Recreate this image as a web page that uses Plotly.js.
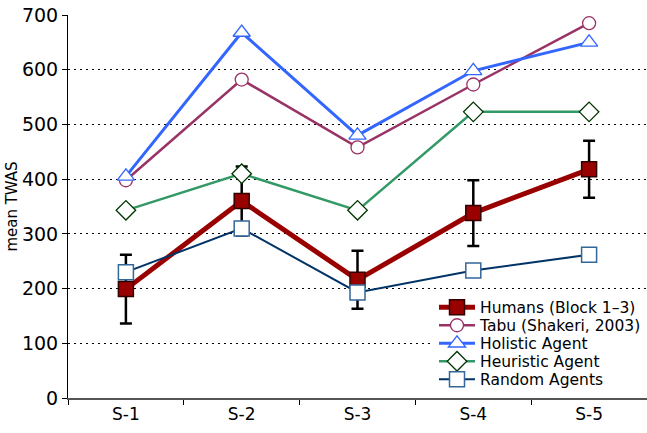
<!DOCTYPE html>
<html><head><meta charset="utf-8">
<script src="https://cdn.plot.ly/plotly-3.0.1.min.js"></script>
<style>body{margin:0;padding:0;background:#fff}#c{width:647px;height:433px}</style>
</head><body><div id="c"></div>
<script>
const categories = ["S-1","S-2","S-3","S-4","S-5"];
const humans = [199, 360, 216, 338, 418];
const humansErr = [63, 63, 53, 60, 52];
const tabu = [398, 582, 458, 573, 685];
const holistic = [405, 668, 480, 598, 650];
const heuristic = [343, 410, 343, 523, 523];
const randomAgents = [230, 310, 193, 233, 262];
const yTicks = [0,100,200,300,400,500,600,700];

const traces = [
 {x:categories,y:humans,name:"Humans (Block 1\u20133)",mode:"lines+markers",
  line:{color:"#990000",width:5},
  marker:{symbol:"square",size:15,color:"#990000",line:{color:"#330000",width:1.5}},
  error_y:{type:"data",array:humansErr,visible:true,color:"#000",thickness:2.5,width:6}},
 {x:categories,y:tabu,name:"Tabu (Shakeri, 2003)",mode:"lines+markers",
  line:{color:"#993366",width:2.5},
  marker:{symbol:"circle",size:13,color:"#fff",line:{color:"#993366",width:1.3}}},
 {x:categories,y:holistic,name:"Holistic Agent",mode:"lines+markers",
  line:{color:"#3366FF",width:3},
  marker:{symbol:"triangle-up",size:15,color:"#fff",line:{color:"#3366FF",width:1.3}}},
 {x:categories,y:heuristic,name:"Heuristic Agent",mode:"lines+markers",
  line:{color:"#339966",width:2.5},
  marker:{symbol:"diamond",size:15,color:"#fff",line:{color:"#003300",width:1.3}}},
 {x:categories,y:randomAgents,name:"Random Agents",mode:"lines+markers",
  line:{color:"#003366",width:2},
  marker:{symbol:"square",size:15,color:"#fff",line:{color:"#336699",width:1.5}}}
];

const layout = {
 width:647,height:433,
 margin:{l:68,r:0,t:15,b:35},
 paper_bgcolor:"#fff",plot_bgcolor:"#fff",
 font:{family:"DejaVu Sans",size:16,color:"#000"},
 showlegend:true,
 legend:{x:1,xanchor:"right",y:0.005,yanchor:"bottom",bgcolor:"#fff",
   font:{size:15.5},tracegroupgap:0,itemwidth:36},
 xaxis:{type:"category",range:[-0.5,4.5],showgrid:false,showline:true,linecolor:"#555",linewidth:2,
   ticks:"outside",tickson:"boundaries",ticklen:5,tickcolor:"#000",tickwidth:1,
   tickfont:{size:17},zeroline:false,fixedrange:true},
 yaxis:{range:[0,700],tickvals:yTicks,showgrid:true,gridcolor:"#000",griddash:"2px,4px",gridwidth:1,
   showline:true,linecolor:"#000",linewidth:1,ticks:"outside",ticklen:5,tickcolor:"#000",
   tickfont:{size:19},zeroline:false,
   title:{text:"mean TWAS",font:{size:15},standoff:0}}
};
Plotly.newPlot("c",traces,layout,{displayModeBar:false,staticPlot:true}).then(function(gd){
  // tighten legend row spacing to match the reference
  const rowH = 18;
  const items = gd.querySelectorAll('.legend .traces');
  if(!items.length) return;
  const parse = t => { const m = /translate\(\s*([-\d.]+)[ ,]+([-\d.]+)/.exec(t||''); return m?[+m[1],+m[2]]:[0,0]; };
  const first = parse(items[0].getAttribute('transform'));
  const last = parse(items[items.length-1].getAttribute('transform'));
  const oldSpan = last[1]-first[1];
  items.forEach((el,i)=>{
    const p = parse(el.getAttribute('transform'));
    el.setAttribute('transform','translate('+p[0]+','+(first[1]+i*rowH)+')');
  });
  const shrink = oldSpan - (items.length-1)*rowH;
  const leg = gd.querySelector('.legend');
  const lp = parse(leg.getAttribute('transform'));
  leg.setAttribute('transform','translate('+lp[0]+','+(lp[1]+shrink)+')');
  leg.querySelectorAll('rect.bg').forEach(r=>{
    const h = +r.getAttribute('height'); r.setAttribute('height', h - shrink);
  });
});
</script></body></html>
